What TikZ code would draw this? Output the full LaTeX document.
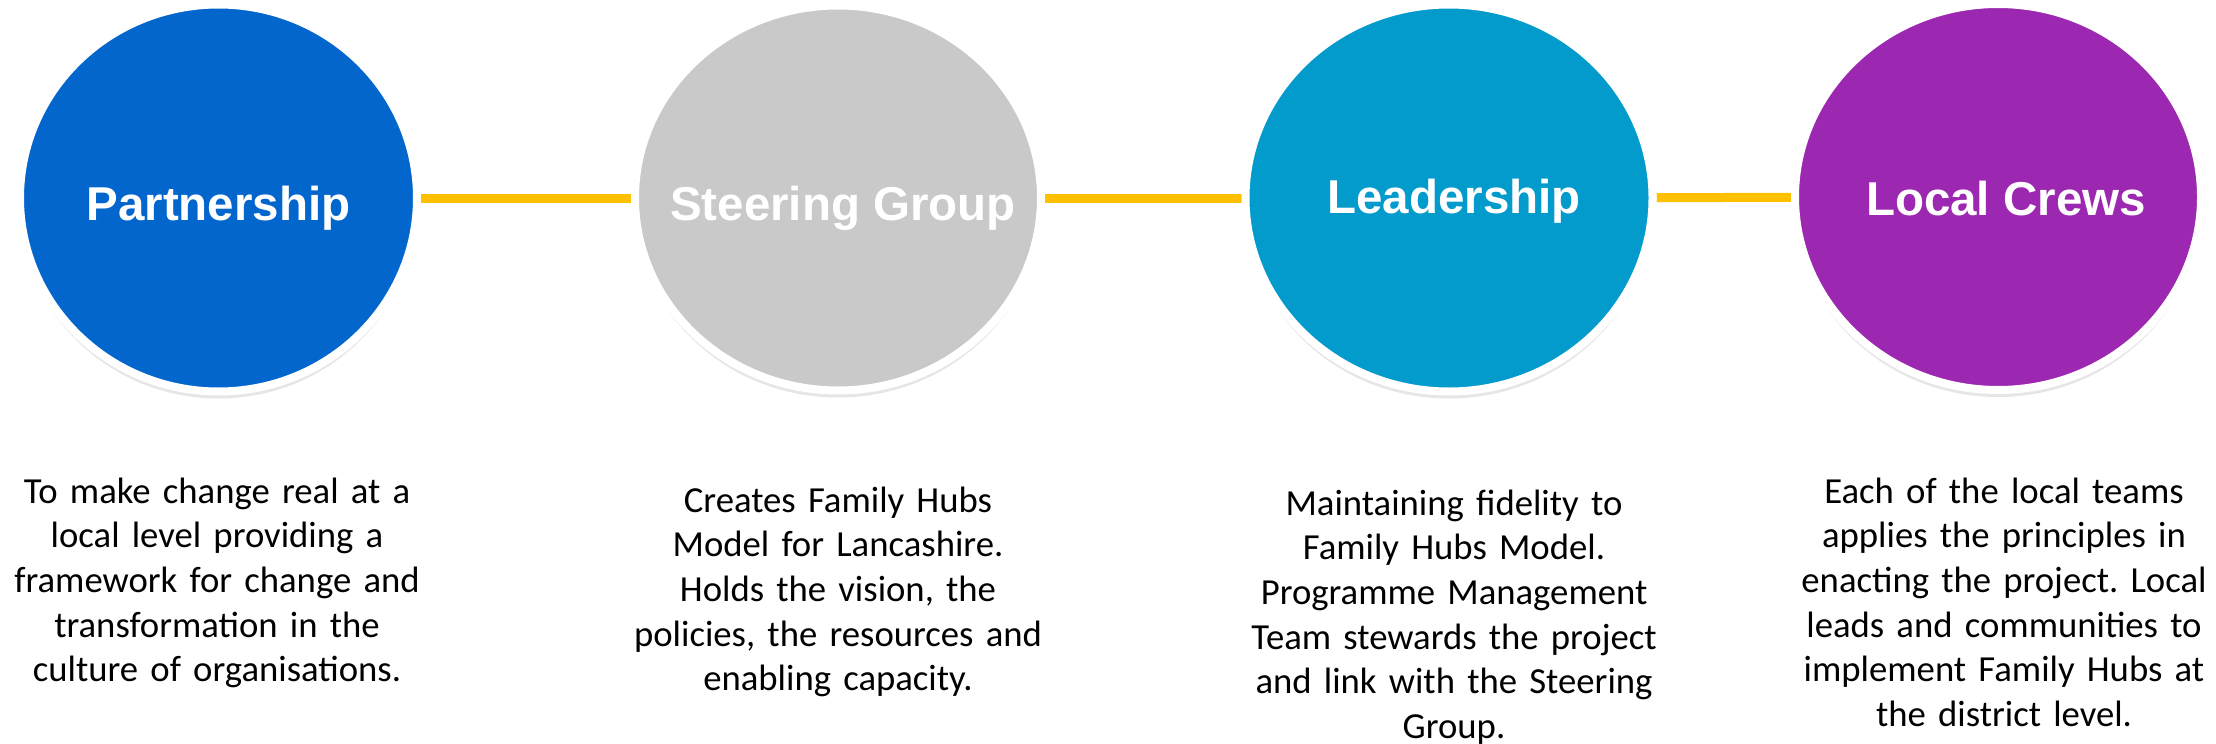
\documentclass[tikz,border=0pt]{standalone}
\usepackage{fontspec}
\setmainfont{Carlito}
\newfontfamily\headfont{Liberation Sans}
\usepackage{tikz}
\usetikzlibrary{shapes.geometric,shadows,backgrounds}

\definecolor{hubblue}{HTML}{0366CC}
\definecolor{hubgray}{HTML}{C9C9C9}
\definecolor{hubteal}{HTML}{029BCC}
\definecolor{hubpurple}{HTML}{9C27B0}
\definecolor{linkyellow}{HTML}{FFC000}

\begin{document}
\begin{tikzpicture}[x=1pt,y=-1pt,
		hub/.style={ellipse, draw=white, line width=8pt, inner sep=0pt,
			drop shadow={shadow xshift=0pt, shadow yshift=-7pt, fill=black!45, opacity=0.22}},
		title/.style={white, anchor=base, font=\headfont\bfseries\fontsize{47.5}{57}\selectfont},
		desc/.style={black, anchor=base, text width=440pt, align=center, inner sep=0pt,
			font=\frenchspacing\fontsize{36.7}{44.7}\selectfont},
		link/.style={draw=linkyellow, line width=9pt}]
		\useasboundingbox (0,0) rectangle (2216,744);

		% the four circles
		\node[hub, fill=hubblue, minimum width=397pt, minimum height=387pt] (partnership) at (218.5,198) {};
		\node[hub, fill=hubgray, minimum width=406pt, minimum height=385pt] (steering) at (838,198) {};
		\node[hub, fill=hubteal, minimum width=407pt, minimum height=387pt] (leadership) at (1449,198) {};
		\node[hub, fill=hubpurple, minimum width=406pt, minimum height=386pt] (crews) at (1998,197) {};

		\node[title] (partnership-title) at (218.5,220.7) {Partnership};
		\node[title] (steering-title) at (843,220.7) {Steering Group};
		\node[title] (leadership-title) at (1454,213.3) {Leadership};
		\node[title] (crews-title) at (2006,215) {Local Crews};

		% yellow links behind the circles
		\begin{scope}[on background layer]
			\draw[link] (partnership) -- (steering);
			\draw[link] (steering) -- (leadership);
			\draw[link] (leadership) -- (crews);
		\end{scope}

		% descriptions
		\node[desc] (partnership-text) at (217,503) {To make change real at a\\local level providing a\\framework for change and\\transformation in the\\culture of organisations.};
		\node[desc] (steering-text) at (838,512) {Creates Family Hubs\\Model for Lancashire.\\Holds the vision, the\\policies, the resources and\\enabling capacity.};
		\node[desc] (leadership-text) at (1454,515) {Maintaining fidelity to\\Family Hubs Model.\\Programme Management\\Team stewards the project\\and link with the Steering\\Group.};
		\node[desc] (crews-text) at (2004,503) {Each of the local teams\\applies the principles in\\enacting the project. Local\\leads and communities to\\implement Family Hubs at\\the district level.};
	\end{tikzpicture}
\end{document}
